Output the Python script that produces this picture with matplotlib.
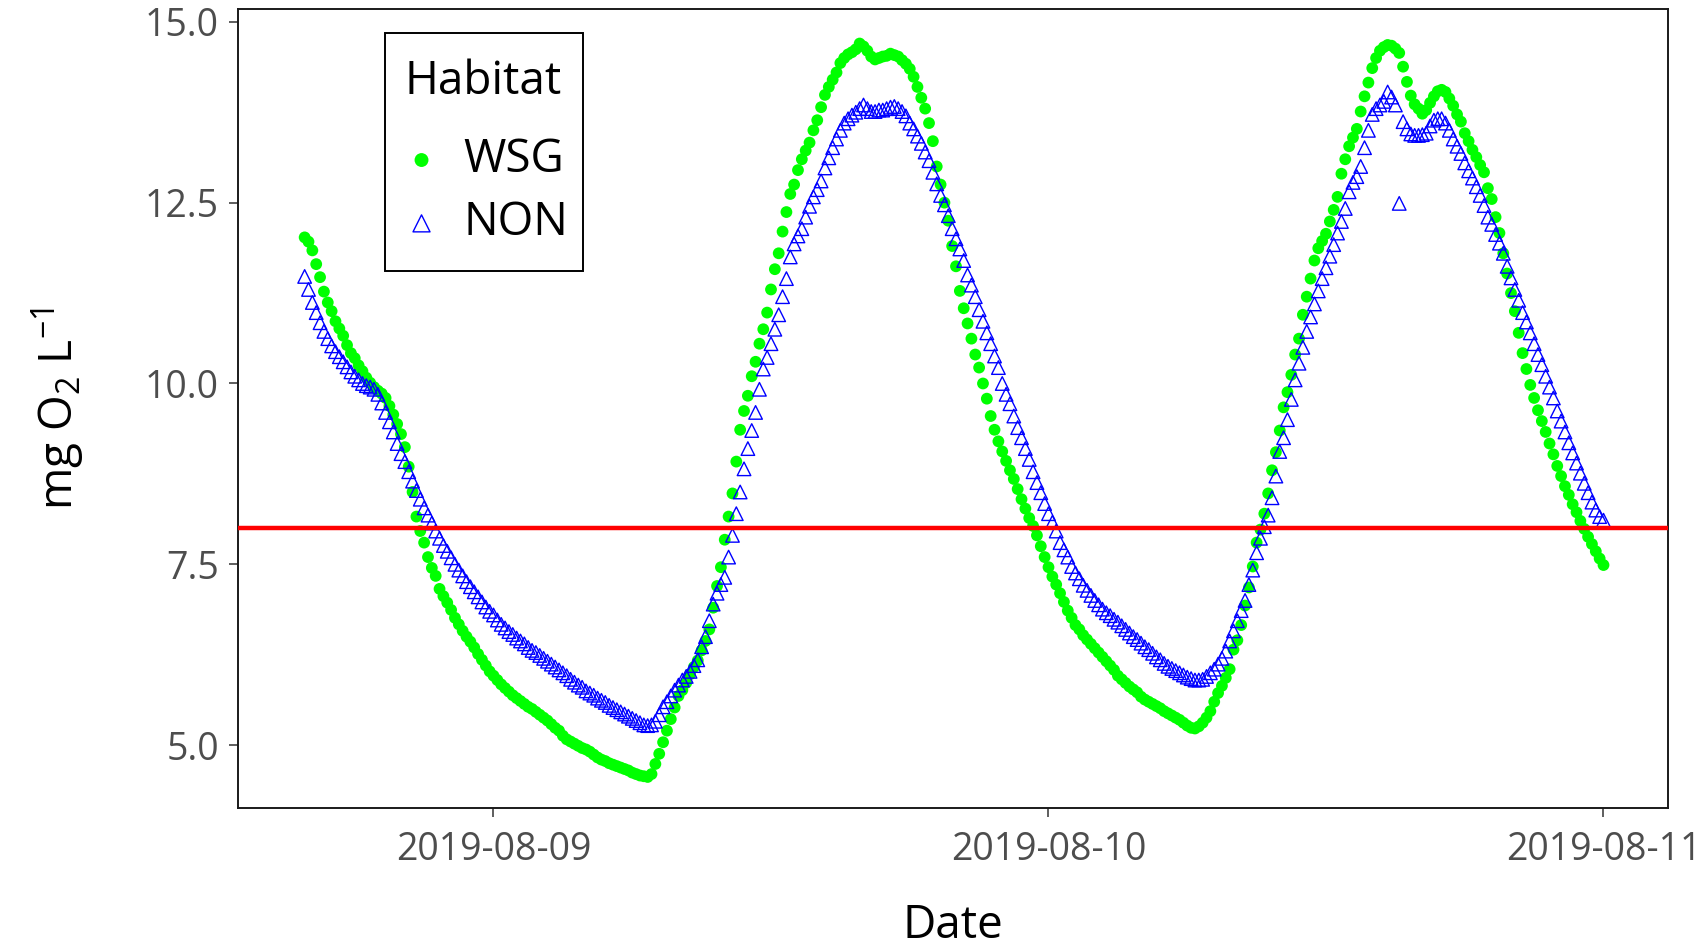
import pandas as pd
import matplotlib
matplotlib.use("Agg")
import matplotlib.pyplot as plt
import matplotlib.dates as mdates
from matplotlib.patches import Rectangle

# dissolved oxygen, mg O2 / L, one reading every 10 min from 2019-08-08 15:50
# each row is one hour (:00 :10 :20 :30 :40 :50)
wsg_do = [
    12.02,                                      # 08-08 15:50
    11.96, 11.84, 11.65, 11.47, 11.27, 11.12,   # 16h
    11.00, 10.86, 10.76, 10.66, 10.53, 10.42,   # 17h
    10.35, 10.25, 10.17, 10.08, 10.01, 9.95,    # 18h
    9.90, 9.86, 9.80, 9.69, 9.57, 9.44,         # 19h
    9.30, 9.12, 8.85, 8.50, 8.16, 7.96,         # 20h
    7.80, 7.60, 7.45, 7.34, 7.16, 7.06,         # 21h
    6.97, 6.87, 6.76, 6.67, 6.58, 6.50,         # 22h
    6.43, 6.35, 6.26, 6.18, 6.10, 6.02,         # 23h
    5.96, 5.90, 5.84, 5.79, 5.74, 5.69,         # 08-09 00h
    5.65, 5.61, 5.57, 5.53, 5.50, 5.46,
    5.42, 5.38, 5.34, 5.29, 5.24, 5.20,
    5.13, 5.08, 5.05, 5.02, 4.99, 4.96,
    4.94, 4.91, 4.87, 4.83, 4.80, 4.78,
    4.75, 4.73, 4.71, 4.69, 4.67, 4.65,
    4.62, 4.60, 4.58, 4.57, 4.56, 4.60,         # 06h
    4.74, 4.88, 5.04, 5.20, 5.36, 5.52,
    5.68, 5.76, 5.86, 5.98, 6.08, 6.17,
    6.31, 6.44, 6.60, 6.90, 7.20, 7.46,
    7.84, 8.16, 8.48, 8.92, 9.36, 9.62,
    9.83, 10.10, 10.30, 10.55, 10.75, 10.98,
    11.30, 11.58, 11.80, 12.10, 12.37, 12.62,   # 12h
    12.75, 12.95, 13.10, 13.22, 13.33, 13.50,
    13.64, 13.82, 13.99, 14.10, 14.20, 14.30,
    14.43, 14.50, 14.55, 14.58, 14.62, 14.70,
    14.66, 14.60, 14.52, 14.48, 14.50, 14.52,
    14.53, 14.56, 14.54, 14.52, 14.47, 14.42,
    14.35, 14.24, 14.10, 13.95, 13.80, 13.60,   # 18h
    13.35, 13.00, 12.75, 12.50, 12.25, 11.90,
    11.62, 11.28, 11.04, 10.83, 10.62, 10.40,
    10.22, 10.00, 9.79, 9.55, 9.36, 9.20,
    9.06, 8.93, 8.80, 8.68, 8.54, 8.40,
    8.27, 8.14, 8.03, 7.90, 7.75, 7.60,
    7.46, 7.33, 7.22, 7.10, 6.98, 6.86,         # 08-10 00h
    6.76, 6.66, 6.60, 6.52, 6.46, 6.40,
    6.34, 6.28, 6.22, 6.16, 6.10, 6.04,
    5.96, 5.91, 5.86, 5.81, 5.77, 5.73,
    5.67, 5.63, 5.60, 5.57, 5.54, 5.51,
    5.47, 5.44, 5.41, 5.38, 5.35, 5.31,
    5.27, 5.24, 5.23, 5.26, 5.31, 5.38,         # 06h
    5.47, 5.60, 5.72, 5.82, 5.93, 6.05,
    6.32, 6.45, 6.66, 6.93, 7.18, 7.47,
    7.80, 7.98, 8.20, 8.48, 8.80, 9.05,
    9.35, 9.67, 9.88, 10.12, 10.40, 10.62,
    10.95, 11.20, 11.45, 11.70, 11.87, 11.97,
    12.07, 12.24, 12.40, 12.58, 12.90, 13.10,   # 12h
    13.28, 13.40, 13.52, 13.76, 13.97, 14.16,
    14.36, 14.50, 14.60, 14.65, 14.68, 14.67,
    14.63, 14.57, 14.38, 14.17, 13.98, 13.86,
    13.80, 13.73, 13.78, 13.88, 13.97, 14.04,
    14.06, 14.03, 13.94, 13.84, 13.72, 13.62,
    13.46, 13.35, 13.23, 13.13, 13.02, 12.92,   # 18h
    12.70, 12.55, 12.30, 12.08, 11.80, 11.52,
    11.25, 11.00, 10.70, 10.42, 10.20, 9.98,
    9.80, 9.63, 9.48, 9.33, 9.17, 9.02,
    8.86, 8.72, 8.58, 8.46, 8.33, 8.22,
    8.10, 7.99, 7.88, 7.78, 7.68, 7.58,
    7.49,                                       # 08-11 00:00
]

non_do = [
    11.48,                                      # 08-08 15:50
    11.30, 11.12, 10.98, 10.84, 10.72, 10.62,   # 16h
    10.52, 10.44, 10.37, 10.30, 10.23, 10.16,
    10.10, 10.05, 10.00, 9.97, 9.95, 9.92,
    9.85, 9.73, 9.60, 9.47, 9.33, 9.17,
    9.03, 8.92, 8.78, 8.65, 8.52, 8.40,
    8.28, 8.18, 8.07, 7.96, 7.86, 7.76,
    7.68, 7.59, 7.50, 7.42, 7.34, 7.26,
    7.19, 7.12, 7.05, 6.98, 6.91, 6.85,
    6.80, 6.73, 6.67, 6.62, 6.57, 6.53,         # 08-09 00h
    6.48, 6.44, 6.40, 6.35, 6.31, 6.28,
    6.24, 6.20, 6.16, 6.12, 6.08, 6.04,
    6.00, 5.96, 5.91, 5.87, 5.83, 5.80,
    5.75, 5.72, 5.69, 5.65, 5.62, 5.59,
    5.55, 5.52, 5.49, 5.46, 5.43, 5.40,
    5.37, 5.34, 5.31, 5.28, 5.27, 5.28,         # 06h
    5.33, 5.42, 5.53, 5.60, 5.68, 5.76,
    5.83, 5.90, 5.95, 6.02, 6.10, 6.18,
    6.36, 6.50, 6.72, 6.95, 7.10, 7.22,
    7.32, 7.60, 7.90, 8.20, 8.50, 8.82,
    9.10, 9.35, 9.60, 9.92, 10.20, 10.36,
    10.55, 10.75, 10.95, 11.20, 11.45, 11.75,   # 12h
    11.93, 12.04, 12.14, 12.30, 12.45, 12.58,
    12.68, 12.80, 12.98, 13.12, 13.26, 13.38,
    13.50, 13.60, 13.66, 13.71, 13.75, 13.80,
    13.85, 13.80, 13.76, 13.76, 13.78, 13.78,
    13.80, 13.82, 13.83, 13.80, 13.76, 13.70,
    13.60, 13.52, 13.42, 13.32, 13.20, 13.08,   # 18h
    12.92, 12.76, 12.60, 12.47, 12.32, 12.14,
    12.00, 11.86, 11.70, 11.50, 11.36, 11.20,
    11.02, 10.86, 10.70, 10.55, 10.38, 10.22,
    10.00, 9.85, 9.72, 9.55, 9.39, 9.25,
    9.10, 8.95, 8.78, 8.63, 8.49, 8.34,
    8.20, 8.08, 7.96, 7.80, 7.70, 7.60,         # 08-10 00h
    7.47, 7.38, 7.30, 7.21, 7.14, 7.07,
    7.00, 6.94, 6.88, 6.83, 6.79, 6.74,
    6.70, 6.65, 6.60, 6.55, 6.50, 6.46,
    6.41, 6.36, 6.32, 6.27, 6.22, 6.18,
    6.13, 6.09, 6.06, 6.03, 6.00, 5.97,
    5.94, 5.92, 5.90, 5.90, 5.91, 5.95,         # 06h
    6.00, 6.05, 6.12, 6.20, 6.30, 6.44,
    6.58, 6.72, 6.86, 7.00, 7.22, 7.42,
    7.66, 7.86, 8.02, 8.18, 8.42, 8.72,
    9.06, 9.25, 9.50, 9.78, 10.05, 10.28,
    10.50, 10.72, 10.92, 11.10, 11.28, 11.45,
    11.60, 11.76, 11.92, 12.08, 12.24, 12.42,   # 12h
    12.65, 12.78, 12.86, 13.00, 13.26, 13.50,
    13.72, 13.80, 13.85, 13.90, 14.03, 13.96,
    13.85, 12.49, 13.62, 13.52, 13.45, 13.43,
    13.43, 13.44, 13.46, 13.56, 13.64, 13.66,
    13.66, 13.60, 13.50, 13.38, 13.28, 13.18,
    13.05, 12.94, 12.84, 12.72, 12.60, 12.46,   # 18h
    12.30, 12.20, 12.06, 11.94, 11.80, 11.62,
    11.46, 11.30, 11.15, 10.98, 10.85, 10.70,
    10.55, 10.40, 10.26, 10.10, 9.95, 9.80,
    9.62, 9.48, 9.33, 9.18, 9.04, 8.90,
    8.76, 8.62, 8.49, 8.36, 8.25, 8.16,
    8.11,                                       # 08-11 00:00
]

threshold = 8.0
y_ticks = [5.0, 7.5, 10.0, 12.5, 15.0]
x_ticks = ["2019-08-09", "2019-08-10", "2019-08-11"]
habitats = ["WSG", "NON"]

times = pd.date_range("2019-08-08 15:50", periods=len(wsg_do), freq="10min")

plt.rcParams["font.family"] = ["Open Sans", "DejaVu Sans"]
plt.rcParams["mathtext.default"] = "regular"

fig = plt.figure(figsize=(17.08, 9.5), dpi=100)
ax = fig.add_axes([0.1391, 0.1491, 0.8374, 0.8417])

green = "#00ff00"
blue = "#0000ff"

ax.scatter(times, wsg_do, s=72, marker="o", color=green,
           edgecolors="none", zorder=2)
ax.scatter(times, non_do, s=95, marker="^", facecolors="none",
           edgecolors=blue, linewidths=1.0, zorder=3)
ax.axhline(threshold, color="#ff0000", linewidth=3.2, zorder=4)

ax.set_xlim(pd.Timestamp("2019-08-08 12:56"), pd.Timestamp("2019-08-11 02:47"))
ax.set_ylim(4.126, 15.181)

ax.set_xticks(pd.to_datetime(x_ticks))
ax.xaxis.set_major_formatter(mdates.DateFormatter("%Y-%m-%d"))
ax.set_yticks(y_ticks)
ax.set_yticklabels([f"{v:.1f}" for v in y_ticks])

ax.tick_params(axis="both", direction="out", length=6.5, width=1.1,
               color="#333333", labelcolor="#4d4d4d", labelsize=27)
ax.tick_params(axis="x", pad=10)
ax.tick_params(axis="y", pad=7)

for sp in ax.spines.values():
    sp.set_color("#1a1a1a")
    sp.set_linewidth(1.4)

ax.set_xlabel("Date", fontsize=33)
ax.set_ylabel(r"mg O$_2$ L$^{-1}$", fontsize=33)
ax.xaxis.set_label_coords(0.5, -0.118)
ax.yaxis.set_label_coords(-0.105, 0.5)

# legend box drawn by hand so the spacing matches ggplot's
tr = ax.transAxes
ax.add_patch(Rectangle((0.1028, 0.6717), 0.1386, 0.2983, transform=tr,
                       facecolor="white", edgecolor="black", linewidth=1.4,
                       zorder=5))
ax.text(0.1170, 0.9087, "Habitat", transform=tr, fontsize=33,
        ha="left", va="center", zorder=6)
ax.scatter([0.1286], [0.8108], s=100, marker="o", color=green,
           edgecolors="none", transform=tr, zorder=6)
ax.scatter([0.1286], [0.7316], s=150, marker="^", facecolors="none",
           edgecolors=blue, linewidths=1.0, transform=tr, zorder=6)
ax.text(0.1577, 0.8108, habitats[0], transform=tr, fontsize=33,
        ha="left", va="center", zorder=6)
ax.text(0.1577, 0.7316, habitats[1], transform=tr, fontsize=33,
        ha="left", va="center", zorder=6)

fig.savefig("out.png", dpi=100)
